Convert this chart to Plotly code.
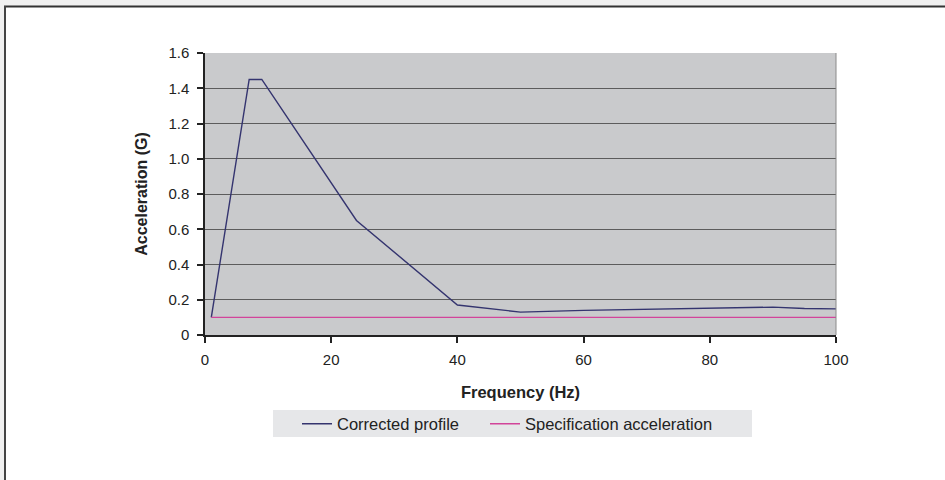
import plotly.graph_objects as go

# ---- data ----
freq_corrected = [1, 7, 9, 24, 40, 50, 60, 70, 75, 80, 90, 95, 100]
accel_corrected = [0.10, 1.45, 1.45, 0.65, 0.17, 0.13, 0.14, 0.147, 0.15, 0.15, 0.158, 0.15, 0.148]
freq_spec = [1, 100]
accel_spec = [0.10, 0.10]
x_ticks = [0, 20, 40, 60, 80, 100]
y_ticks = [0, 0.2, 0.4, 0.6, 0.8, 1.0, 1.2, 1.4, 1.6]
y_tick_labels = ["0", "0.2", "0.4", "0.6", "0.8", "1.0", "1.2", "1.4", "1.6"]

W, H = 945, 480
ML, MR, MT, MB = 205, 109, 53, 145
PW, PH = W - ML - MR, H - MT - MB


def px(x):
    return (x - ML) / PW


def py(y):
    return (H - MB - y) / PH


FONT = "Liberation Sans, Arial, sans-serif"

fig = go.Figure()
fig.add_trace(go.Scatter(x=freq_corrected, y=accel_corrected, mode="lines",
                         name="Corrected profile", legend="legend",
                         line=dict(color="#34346f", width=1.4)))
fig.add_trace(go.Scatter(x=freq_spec, y=accel_spec, mode="lines",
                         name="Specification acceleration", legend="legend2",
                         line=dict(color="#d2449a", width=1.4)))

shapes = [
    # outer light strips + frame
    dict(type="rect", xref="paper", yref="paper", x0=px(-20), x1=px(980), y0=py(-20), y1=py(6),
         fillcolor="#f0f0f0", line=dict(width=0), layer="below"),
    dict(type="rect", xref="paper", yref="paper", x0=px(-20), x1=px(4), y0=py(-20), y1=py(500),
         fillcolor="#f0f0f0", line=dict(width=0), layer="below"),
    dict(type="line", xref="paper", yref="paper", x0=px(4), x1=px(990), y0=py(6.5), y1=py(6.5),
         line=dict(color="#333333", width=2)),
    dict(type="line", xref="paper", yref="paper", x0=px(5), x1=px(5), y0=py(6), y1=py(500),
         line=dict(color="#444444", width=2)),
    # right edge of plot area
    dict(type="line", xref="paper", yref="paper", x0=1, x1=1, y0=0, y1=1,
         line=dict(color="#8a8a8a", width=1)),
    # legend box
    dict(type="rect", xref="paper", yref="paper", x0=px(273), x1=px(752), y0=py(437), y1=py(410),
         fillcolor="#e6e7e9", line=dict(width=0), layer="below"),
]

legend_common = dict(orientation="h", xanchor="left", y=py(424), yanchor="middle",
                     bgcolor="rgba(0,0,0,0)", font=dict(size=16.5, family=FONT, color="#222222"),
                     itemwidth=30)

fig.update_layout(
    width=W, height=H,
    margin=dict(l=ML, r=MR, t=MT, b=MB, autoexpand=False),
    paper_bgcolor="white",
    plot_bgcolor="#c9cacc",
    font=dict(family=FONT, size=15, color="#222222"),
    shapes=shapes,
    showlegend=True,
    legend=dict(x=px(297), **legend_common),
    legend2=dict(x=px(485), **legend_common),
    xaxis=dict(range=[0, 100], tickvals=x_ticks, showgrid=False, zeroline=False,
               showline=True, linecolor="#222222", linewidth=1.5,
               ticks="outside", ticklen=6, tickcolor="#222222", tickwidth=1.5,
               ticklabelstandoff=4,
               tickfont=dict(size=15, family=FONT, color="#222222"),
               title=dict(text="<b>Frequency (Hz)</b>", standoff=20,
                          font=dict(size=16.5, family=FONT, color="#222222"))),
    yaxis=dict(range=[0, 1.6], tickvals=y_ticks, ticktext=y_tick_labels,
               showgrid=True, gridcolor="#5c5c5c", gridwidth=1, zeroline=False,
               showline=True, linecolor="#222222", linewidth=1.5,
               ticks="outside", ticklen=6, tickcolor="#222222", tickwidth=1.5,
               ticklabelstandoff=5,
               tickfont=dict(size=15, family=FONT, color="#222222"),
               title=dict(text="<b>Acceleration (G)</b>", standoff=17,
                          font=dict(size=16, family=FONT, color="#222222"))),
)

fig.write_html("out.html")
